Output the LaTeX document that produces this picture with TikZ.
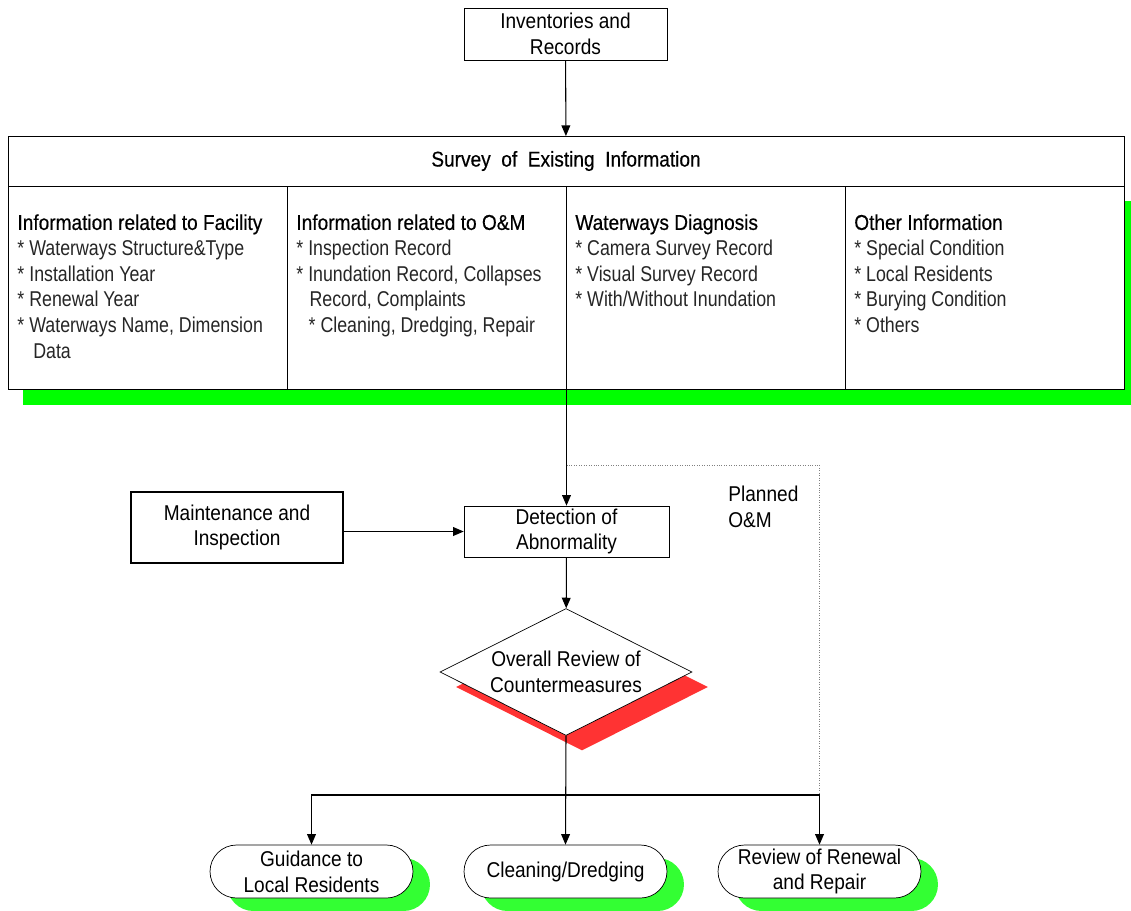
\documentclass[tikz,border=0pt]{standalone}
\usepackage{fontspec}
\setmainfont{Liberation Sans}[FakeStretch=0.89]
\newfontfamily\headfont{Liberation Sans}[FakeStretch=0.89,FakeBold=0.4]
\newfontfamily\itemfont{Liberation Sans}[FakeStretch=0.83]
\usetikzlibrary{arrows.meta,positioning,shapes.geometric,shadows,calc}
\definecolor{shadegreen}{RGB}{0,255,0}
\definecolor{lightgreen}{RGB}{51,255,51}
\definecolor{shadered}{RGB}{255,51,51}
\newcommand{\txtsize}{\fontsize{12.2}{14.6}\selectfont}

\begin{document}
\begin{tikzpicture}[x=0.02cm, y=-0.02cm,
    font=\txtsize,
    block/.style={draw, fill=white, align=center, inner sep=0pt, minimum width=4.06cm, minimum height=1.04cm},
    col/.style={draw, fill=white, minimum width=5.58cm, minimum height=4.06cm, inner sep=0pt, outer sep=0pt},
    coltext/.style={anchor=north west, align=left, inner sep=0pt, text=black!85, font=\itemfont\txtsize},
    term/.style={draw, fill=white, rounded corners=0.53cm, align=center, inner sep=0pt, minimum width=4.06cm, minimum height=1.06cm,
      general shadow={fill=lightgreen, shadow xshift=0.34cm, shadow yshift=-0.26cm}},
    arr/.style={-{Triangle[length=6pt,width=5pt]}, semithick}
  ]
  \useasboundingbox (0,0) rectangle (1131,910);
  % shadow of the survey table
  \fill[shadegreen] (23,201) rectangle (1131,405);

  \node[block] (inv) at (565.5,34) {Inventories and\\Records};
  \node[draw, fill=white, minimum width=22.32cm, minimum height=1.0cm, inner sep=0pt, outer sep=0pt] (survey) at (566,161)
    {\headfont Survey\ \ of\ \ Existing\ \ Information};
  \node[col, anchor=north west] (c1) at (survey.south west) {};
  \node[col, right=0pt of c1] (c2) {};
  \node[col, right=0pt of c2] (c3) {};
  \node[col, right=0pt of c3] (c4) {};

  \node[coltext] (t1) at ([shift={(9,28)}]c1.north west)
    {{\headfont\color{black}Information related to Facility}\\
     * Waterways Structure\&Type\\
     * Installation Year\\
     * Renewal Year\\
     * Waterways Name, Dimension\\
     \hspace*{9pt}Data};
  \node[coltext] (t2) at ([shift={(9,28)}]c2.north west)
    {{\headfont\color{black}Information related to O\&M}\\
     * Inspection Record\\
     * Inundation Record, Collapses\\
     \hspace*{7.5pt}Record, Complaints\\
     \hspace*{7pt}* Cleaning, Dredging, Repair};
  \node[coltext] (t3) at ([shift={(9,28)}]c3.north west)
    {{\headfont\color{black}Waterways Diagnosis}\\
     * Camera Survey Record\\
     * Visual Survey Record\\
     * With/Without Inundation};
  \node[coltext] (t4) at ([shift={(9,28)}]c4.north west)
    {{\headfont\color{black}Other Information}\\
     * Special Condition\\
     * Local Residents\\
     * Burying Condition\\
     * Others};

  \node[block, minimum width=4.24cm, minimum height=1.42cm, line width=1.3pt] (maint) at (237,527.5) {Maintenance and\\Inspection};
  \node[block, minimum width=4.1cm, minimum height=1.02cm] (detect) at (566.5,531.5) {Detection of\\Abnormality};
  \node[anchor=north west, align=left, inner sep=0pt] (planned) at (728,486) {Planned\\O\&M};
  \node[diamond, draw, fill=white, aspect=2, inner sep=0pt, minimum width=5.04cm, minimum height=2.54cm, align=center,
    general shadow={fill=shadered, shadow xshift=0.32cm, shadow yshift=-0.3cm}] (overall) at (566,672)
    {Overall Review of\\Countermeasures};

  \node[term] (guide) at (311.5,871.5) {Guidance to\\Local Residents};
  \node[term] (clean) at (565.5,871.5) {Cleaning/Dredging};
  \node[term] (renew) at (819.5,871.5) {Review of Renewal\\and Repair};

  \coordinate (split) at (detect.north |- 0,465);
  \coordinate (plan) at (819.5,465);
  \coordinate (join) at (819.5,795);

  \draw[arr] (inv) -- (survey);
  \draw[arr] (detect.north |- c3.south) -- (detect.north);
  \draw[densely dotted, gray] (split) -- (plan) -- (join);
  \draw[arr] (maint.east |- detect.west) -- (detect.west);
  \draw[arr] (detect) -- (overall);
  \draw[arr] (overall.south) -- (clean.north);
  \draw[arr] (join) -| (guide.north);
  \draw[arr] (join) -- (renew.north);
\end{tikzpicture}
\end{document}
